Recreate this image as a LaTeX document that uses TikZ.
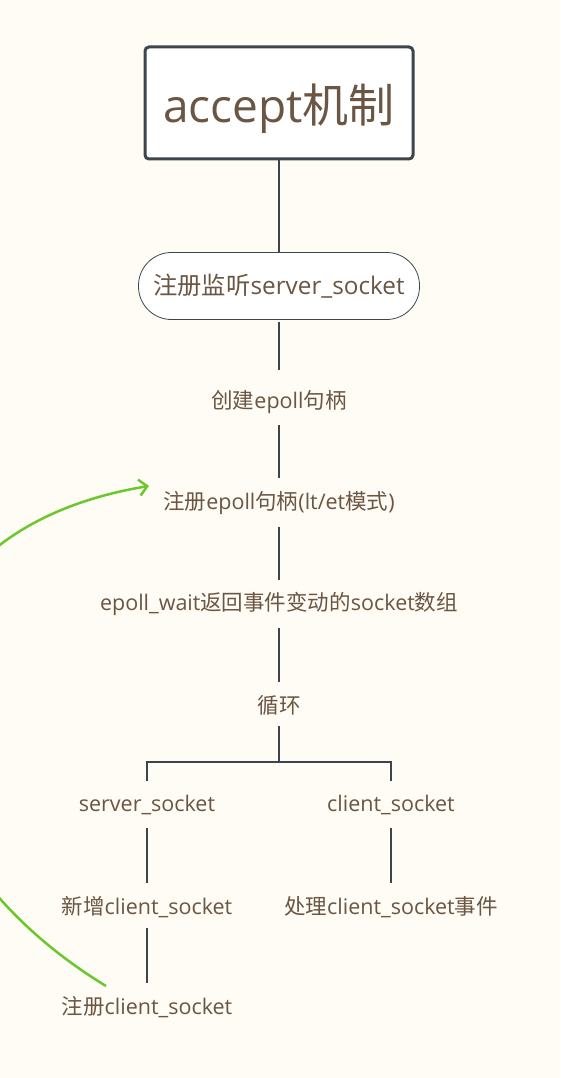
\documentclass[tikz,border=0pt]{standalone}
\usepackage{fontspec}
\setmainfont{Open Sans}
\newfontfamily\cjk{Noto Sans CJK SC}
\usetikzlibrary{arrows.meta}
\definecolor{bg}{HTML}{FEFCF4}
\definecolor{txt}{HTML}{6B5543}
\definecolor{ln}{HTML}{3D444B}
\definecolor{grn}{HTML}{6CC72C}
\tikzset{
  lbl/.style={text=txt,font=\fontsize{21.5}{24}\selectfont,inner sep=0pt},
  conn/.style={draw=ln,line width=1.3pt},
}
\begin{document}
\begin{tikzpicture}[x=1pt,y=-1pt]
\fill[bg] (0,0) rectangle (560,1078);
\useasboundingbox (0,0) rectangle (560,1078);
\node[draw=ln,line width=3pt,rounded corners=4pt,fill=white,minimum width=268pt,minimum height=112pt,inner sep=0pt] (root) at (279,103) {};
\node[text=txt,font=\fontsize{46}{50}\selectfont,inner sep=0pt] (title) at (279,109) {accept{\cjk 机制}};
\node[draw=ln,line width=0.8pt,rounded corners=33pt,fill=white,minimum width=281pt,minimum height=67pt,text=txt,font=\fontsize{24.3}{28}\selectfont,inner sep=0pt] (reg) at (279,286) {{\cjk 注册监听}server\_socket};
\node[lbl] (create) at (279,402) {{\cjk 创建}epoll{\cjk 句柄}};
\node[lbl] (regep) at (279,503) {{\cjk 注册}epoll{\cjk 句柄}(lt/et{\cjk 模式})};
\node[lbl] (wait) at (279,604) {epoll\_wait{\cjk 返回事件变动的}socket{\cjk 数组}};
\node[lbl] (loop) at (279,705) {\cjk 循环};
\node[lbl] (ss) at (147,805) {server\_socket};
\node[lbl] (cs) at (391,805) {client\_socket};
\node[lbl] (new) at (147,907) {{\cjk 新增}client\_socket};
\node[lbl] (handle) at (391,907) {{\cjk 处理}client\_socket{\cjk 事件}};
\node[lbl] (regcs) at (147,1007) {{\cjk 注册}client\_socket};
\draw[draw=ln,line width=2.5pt] (root.south) -- (reg.north);
\draw[conn] ([yshift=-2pt]reg.south) -- ([yshift=32pt]create.center);
\draw[conn] ([yshift=-23pt]create.center) -- ([yshift=25pt]regep.center);
\draw[conn] ([yshift=-24pt]regep.center) -- ([yshift=24pt]wait.center);
\draw[conn] ([yshift=-24pt]wait.center) -- ([yshift=23pt]loop.center);
\coordinate (fork) at (279,762);
\draw[conn] ([yshift=-21pt]loop.center) -- (fork);
\draw[conn] ([yshift=24pt]ss.center) |- (fork) -| ([yshift=24pt]cs.center);
\draw[conn] ([yshift=-23pt]ss.center) -- ([yshift=24pt]new.center);
\draw[conn] ([yshift=-23pt]cs.center) -- ([yshift=24pt]handle.center);
\draw[conn] ([yshift=-21pt]new.center) -- ([yshift=24pt]regcs.center);
\coordinate (fbstart) at (106,986);
\coordinate (fbend) at (149,486);
\draw[grn,line width=2.5pt,-{Straight Barb[length=8pt,width=16pt]}] (fbstart) .. controls (-150,830) and (-150,535) .. (fbend);
\end{tikzpicture}
\end{document}
